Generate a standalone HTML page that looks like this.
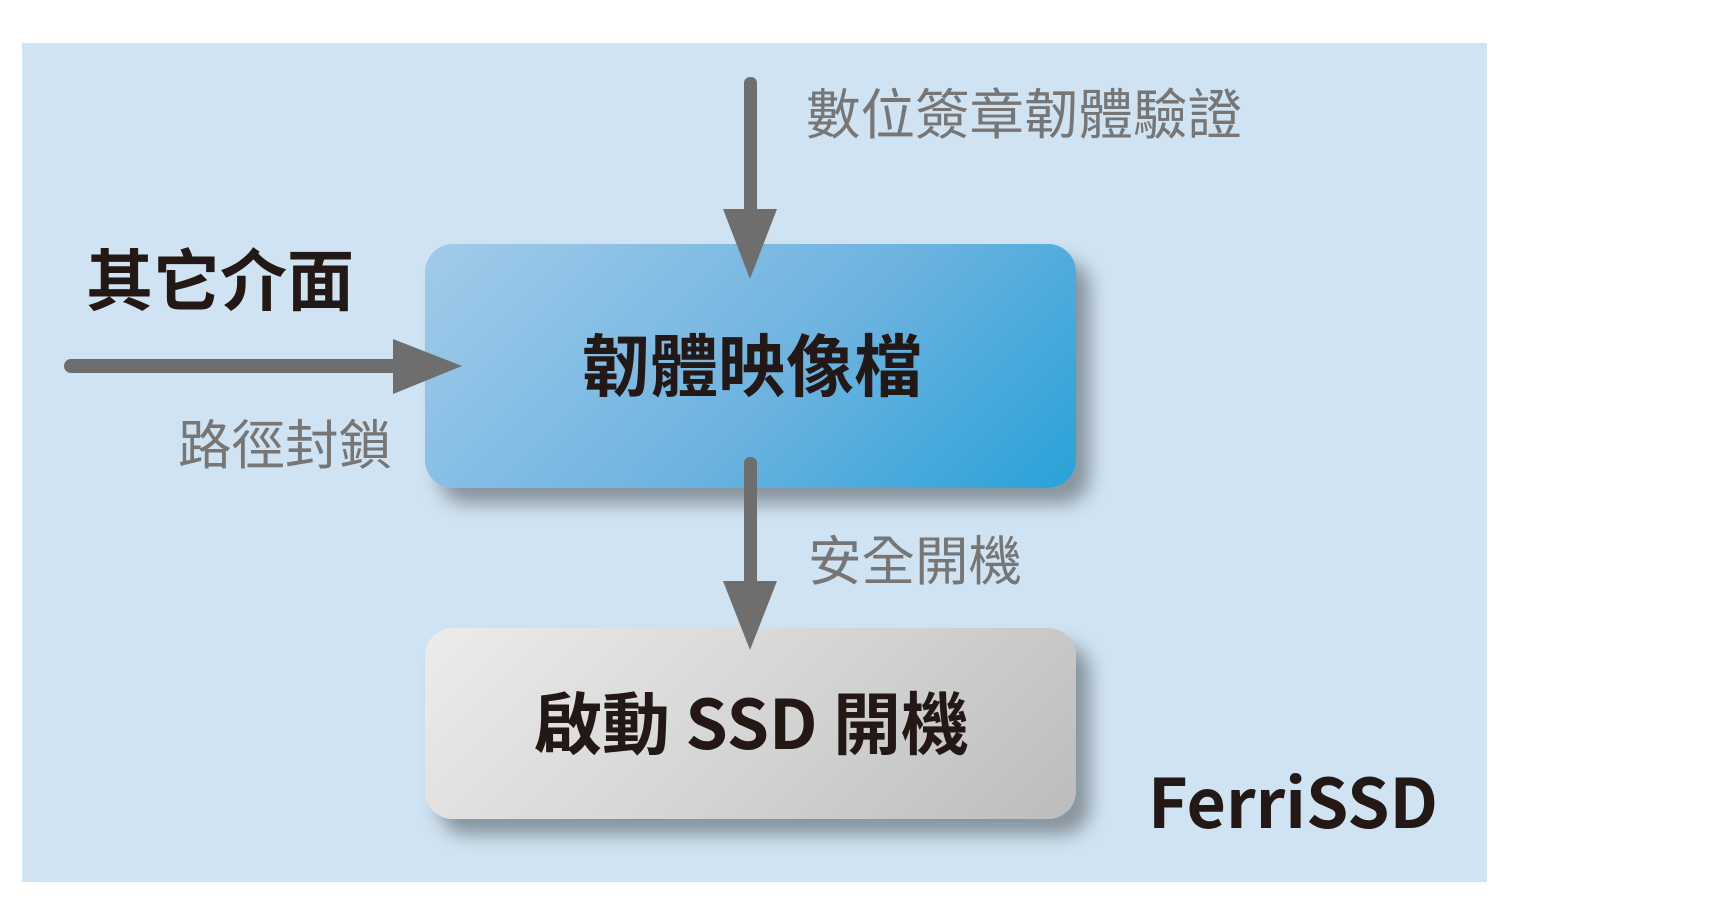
<!DOCTYPE html>
<html><head><meta charset="utf-8"><style>
html,body{margin:0;padding:0;background:#fff;}
body{width:1728px;height:905px;position:relative;overflow:hidden;font-family:"Liberation Sans","Noto Sans CJK TC",sans-serif;}
.bg{position:absolute;left:22px;top:43px;width:1465px;height:839px;background:#d0e3f2;}
.box{position:absolute;left:425px;width:651px;border-radius:28px;box-shadow:14px 16px 18px rgba(0,0,0,0.35);}
.t{position:absolute;white-space:nowrap;line-height:1;}
.g{color:#767676;font-size:53px;}
.b{color:#231815;font-weight:bold;}
.n{font-family:"Noto Sans CJK TC",sans-serif;}
</style></head><body>
<div class="bg"></div>
<div class="box" style="top:244px;height:244px;background:linear-gradient(135deg,#a2cbea 0%,#6db3e0 55%,#28a2d8 100%);"></div>
<div class="box" style="top:628px;height:191px;background:linear-gradient(135deg,#ececec 0%,#d3d3d3 55%,#bcbcbc 100%);"></div>
<svg style="position:absolute;left:0;top:0" width="1728" height="905">
<g fill="#6e6e6e" stroke="none">
<rect x="744" y="77" width="13" height="140" rx="6"/>
<polygon points="723,209 777,209 750,279"/>
<rect x="64" y="359" width="340" height="14" rx="7"/>
<polygon points="393,339 393,394 462,366"/>
<rect x="744" y="457" width="13" height="132" rx="6"/>
<polygon points="723,581 777,581 750,650"/>
</g>
</svg>
<div class="t g" style="left:806px;top:89px;font-size:54.5px;">數位簽章韌體驗證</div>
<div class="t b" style="left:86px;top:249px;font-size:67px;">其它介面</div>
<div class="t g" style="left:178px;top:420px;font-size:53.5px;">路徑封鎖</div>
<div class="t b" style="left:582px;top:334px;font-size:68px;">韌體映像檔</div>
<div class="t g" style="left:808px;top:536px;font-size:53.5px;">安全開機</div>
<div class="t b n" style="left:534px;top:686px;font-size:68px;">啟動 SSD 開機</div>
<div class="t b n" style="left:1148px;top:765px;font-size:68px;">FerriSSD</div>
</body></html>
